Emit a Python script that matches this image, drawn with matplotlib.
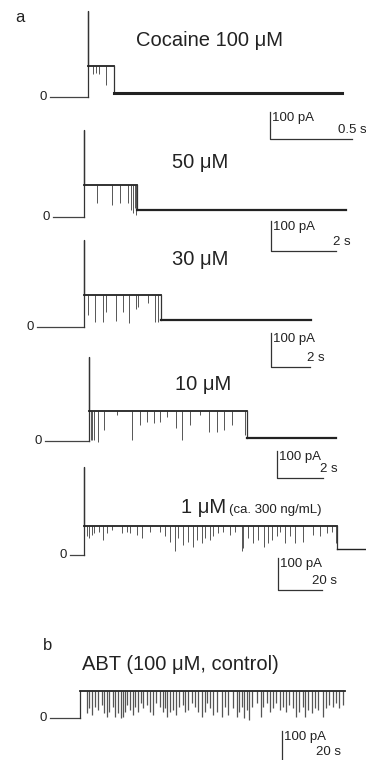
import matplotlib.pyplot as plt

plt.rcParams['font.family'] = ['Liberation Sans', 'DejaVu Sans']

W, H = 366, 760

# ---- trace values (time in s, current in pA) ----
# Cocaine 100 uM
c100_steps = [0.23, 0.39, 1.78]          # pore opens, block ends, trace ends
c100_levels = [320, 115, 15]             # capacitive spike, open, after block
c100_spk_t = [0.26, 0.28, 0.30, 0.34]
c100_spk_d = [30, 25, 30, 70]

# 50 uM
c50_steps = [0.97, 2.58, 9.02]
c50_levels = [290, 107, 22]
c50_spk_t = [1.35, 1.83, 2.07, 2.33, 2.40, 2.46, 2.53, 2.57]
c50_spk_d = [60, 67, 60, 60, 83, 93, 77, 100]

# 30 uM
c30_steps = [2.41, 6.36, 14.05]
c30_levels = [256, 94, 21]
c30_spk_t = [2.63, 2.97, 3.37, 3.54, 4.05, 4.43, 4.72, 5.08, 5.19, 5.71, 6.05, 6.22]
c30_spk_d = [59, 79, 79, 50, 76, 50, 82, 41, 35, 24, 79, 79]

# 10 uM
c10_steps = [1.93, 8.78, 12.65]
c10_levels = [312, 111, 11]
c10_spk_t = [1.98, 2.04, 2.11, 2.32, 2.57, 3.14, 3.77, 4.13, 4.42, 4.74, 5.00,
             5.29, 5.70, 5.94, 6.30, 6.74, 7.14, 7.47, 7.80, 8.12, 8.70, 8.77]
c10_spk_d = [107, 107, 107, 115, 70, 15, 107, 52, 41, 44, 41,
             22, 63, 107, 52, 15, 78, 78, 70, 52, 89, 100]

# 1 uM
c1_steps = [6.4, 121.5, 136.0]
c1_levels = [276, 92, 18]
c1_spk_t = [7.6, 8.8, 9.8, 10.9, 13.3, 15.2, 16.7, 18.9, 23.5, 25.8,
            27.3, 30.3, 32.6, 36.4, 40.9, 43.2, 45.5, 47.7, 49.2, 51.5,
            53.8, 56.1, 57.6, 59.8, 61.4, 63.6, 65.2, 67.4, 69.7, 72.7,
            75.0, 78.0, 78.8, 81.1, 83.3, 85.6, 88.0, 90.2, 91.7, 94.0,
            95.5, 97.7, 100.0, 102.3, 106.1, 110.6, 113.6, 116.7, 119.0, 120.9]
c1_spk_d = [34, 39, 29, 24, 19, 45, 24, 13, 24, 19,
            24, 29, 39, 19, 19, 34, 50, 81, 39, 60,
            50, 66, 45, 55, 39, 45, 34, 24, 19, 29,
            19, 81, 71, 39, 55, 45, 66, 55, 45, 34,
            19, 55, 34, 55, 50, 29, 34, 24, 19, 55]

# ABT 100 uM control (no capacitive spike, stays open)
abt_steps = [13.6, None, 134.1]
abt_levels = [None, 91, None]
abt_spk_t = [16.7, 17.9, 18.9, 20.5, 22.0, 23.5, 24.5, 25.8, 27.0, 28.5,
             29.5, 31.1, 32.1, 33.0, 34.1, 35.2, 36.4, 37.6, 38.6, 40.2,
             41.2, 42.4, 43.9, 45.5, 47.0, 48.2, 50.0, 51.2, 52.3, 53.3,
             54.5, 56.1, 57.3, 58.8, 60.3, 61.4, 62.9, 64.4, 65.9, 67.4,
             68.9, 70.5, 71.5, 72.7,
             74.2, 75.8, 78.0, 79.5, 81.1, 83.3, 84.8, 86.1, 87.1, 88.2,
             89.4, 90.6, 91.7, 93.9, 95.8, 97.0, 98.5, 100.0, 101.5, 102.7,
             104.5, 106.1, 107.3, 108.8, 110.3, 111.8, 113.3, 114.8, 115.9, 117.4,
             118.9, 120.5, 122.0, 124.0, 125.5, 127.0, 128.5, 130.0, 131.5, 133.0]
abt_spk_d = [75, 59, 81, 53, 64, 48, 75, 87, 70, 53,
             87, 75, 92, 87, 70, 48, 64, 81, 53, 70,
             42, 59, 48, 70, 81, 42, 53, 70, 59, 87,
             70, 64, 81, 53, 48, 70, 64, 42, 53, 70,
             87, 70, 42, 59,
             81, 70, 87, 53, 81, 59, 87, 70, 53, 92,
             64, 98, 53, 42, 87, 53, 42, 70, 59, 42,
             64, 53, 70, 48, 59, 87, 70, 53, 87, 64,
             75, 59, 64, 87, 59, 48, 53, 42, 59, 48]

titles = ['Cocaine 100 \u03bcM', '50 \u03bcM', '30 \u03bcM', '10 \u03bcM', '1 \u03bcM',
          'ABT (100 \u03bcM, control)']
time_bars = [0.5, 2, 2, 2, 20, 20]
time_labels = ['0.5 s', '2 s', '2 s', '2 s', '20 s', '20 s']

# ---- layout: pixel origin of t=0/I=0, px per s, px per pA ----
layout = [
    dict(x0=50, y0=97, pps=164, ppa=0.27, title=(210, 40), bar=(1.34, -156)),
    dict(x0=52.7, y0=217, pps=32.5, ppa=0.30, title=(200, 162), bar=(6.72, -113)),
    dict(x0=37, y0=327, pps=19.5, ppa=0.34, title=(200, 260), bar=(12.0, -118)),
    dict(x0=45, y0=441, pps=23, ppa=0.27, title=(203, 384), bar=(10.09, -137)),
    dict(x0=70, y0=555, pps=2.2, ppa=0.32, title=None, bar=(94.5, -109)),
    dict(x0=50, y0=718, pps=2.2, ppa=0.30, title=(180, 665), bar=(105.5, -144)),
]

traces = [
    (c100_steps, c100_levels, c100_spk_t, c100_spk_d, 2.2, 0.7),
    (c50_steps, c50_levels, c50_spk_t, c50_spk_d, 1.6, 0.7),
    (c30_steps, c30_levels, c30_spk_t, c30_spk_d, 1.6, 0.7),
    (c10_steps, c10_levels, c10_spk_t, c10_spk_d, 1.6, 0.7),
    (c1_steps, c1_levels, c1_spk_t, c1_spk_d, 1.0, 0.7),
    (abt_steps, abt_levels, abt_spk_t, abt_spk_d, 1.0, 0.9),
]


def fpos(x, y):
    return x / W, 1 - y / H


fig = plt.figure(figsize=(W / 100, H / 100), dpi=100)

for i, (lay, (steps, levels, spk_t, spk_d, lw_after, lw_spk)) in enumerate(zip(layout, traces)):
    ax = fig.add_axes([0, 0, 1, 1])
    ax.set_xlim((0 - lay['x0']) / lay['pps'], (W - lay['x0']) / lay['pps'])
    ax.set_ylim((lay['y0'] - H) / lay['ppa'], lay['y0'] / lay['ppa'])
    ax.axis('off')

    t_on, t_off, t_end = steps
    i_cap, i_open, i_after = levels
    # baseline before the pore opens
    ax.plot([0, t_on], [0, 0], color='#444', lw=0.9)
    if i_cap is not None:
        ax.plot([t_on, t_on, t_on], [0, i_cap, i_open], color='#333', lw=0.9)
    else:
        ax.plot([t_on, t_on], [0, i_open], color='#333', lw=0.9)
    open_end = t_off if t_off is not None else t_end
    ax.vlines(spk_t, [i_open - d for d in spk_d], i_open, color='#555', lw=lw_spk)
    ax.plot([t_on, open_end], [i_open, i_open], color='#222', lw=1.3)
    if t_off is not None:
        ax.plot([t_off, t_off], [i_open, i_after], color='#333', lw=0.9)
        ax.plot([t_off, t_end], [i_after, i_after], color='#222', lw=lw_after)

    # "0" level label
    ax.annotate('0', (0, 0), xytext=(-3, 0), textcoords='offset pixels',
                ha='right', va='center', fontsize=9.5, color='#222')

    # scale bar: 100 pA and time
    bt, bi = lay['bar']
    blen = time_bars[i]
    ax.plot([bt, bt, bt + blen], [bi + 100, bi, bi], color='#333', lw=0.9)
    ax.annotate('100 pA', (bt, bi + 100), xytext=(2, -6), textcoords='offset pixels',
                ha='left', va='center', fontsize=9.5, color='#222', annotation_clip=False)
    ax.annotate(time_labels[i], (bt + blen, bi), xytext=(15, 9), textcoords='offset pixels',
                ha='right', va='center', fontsize=9.5, color='#222', annotation_clip=False)

    if lay['title'] is not None:
        fig.text(*fpos(*lay['title']), titles[i], ha='center', va='center',
                 fontsize=14.5, color='#222')

# 1 uM title with note
fig.text(*fpos(226, 513), titles[4], ha='right', va='baseline', fontsize=14.5, color='#222')
fig.text(*fpos(229, 513), '(ca. 300 ng/mL)', ha='left', va='baseline', fontsize=9.5, color='#222')

fig.text(*fpos(20, 17), 'a', ha='center', va='center', fontsize=12, color='#222')
fig.text(*fpos(48, 645), 'b', ha='center', va='center', fontsize=12, color='#222')

fig.savefig('out.png', dpi=100)
